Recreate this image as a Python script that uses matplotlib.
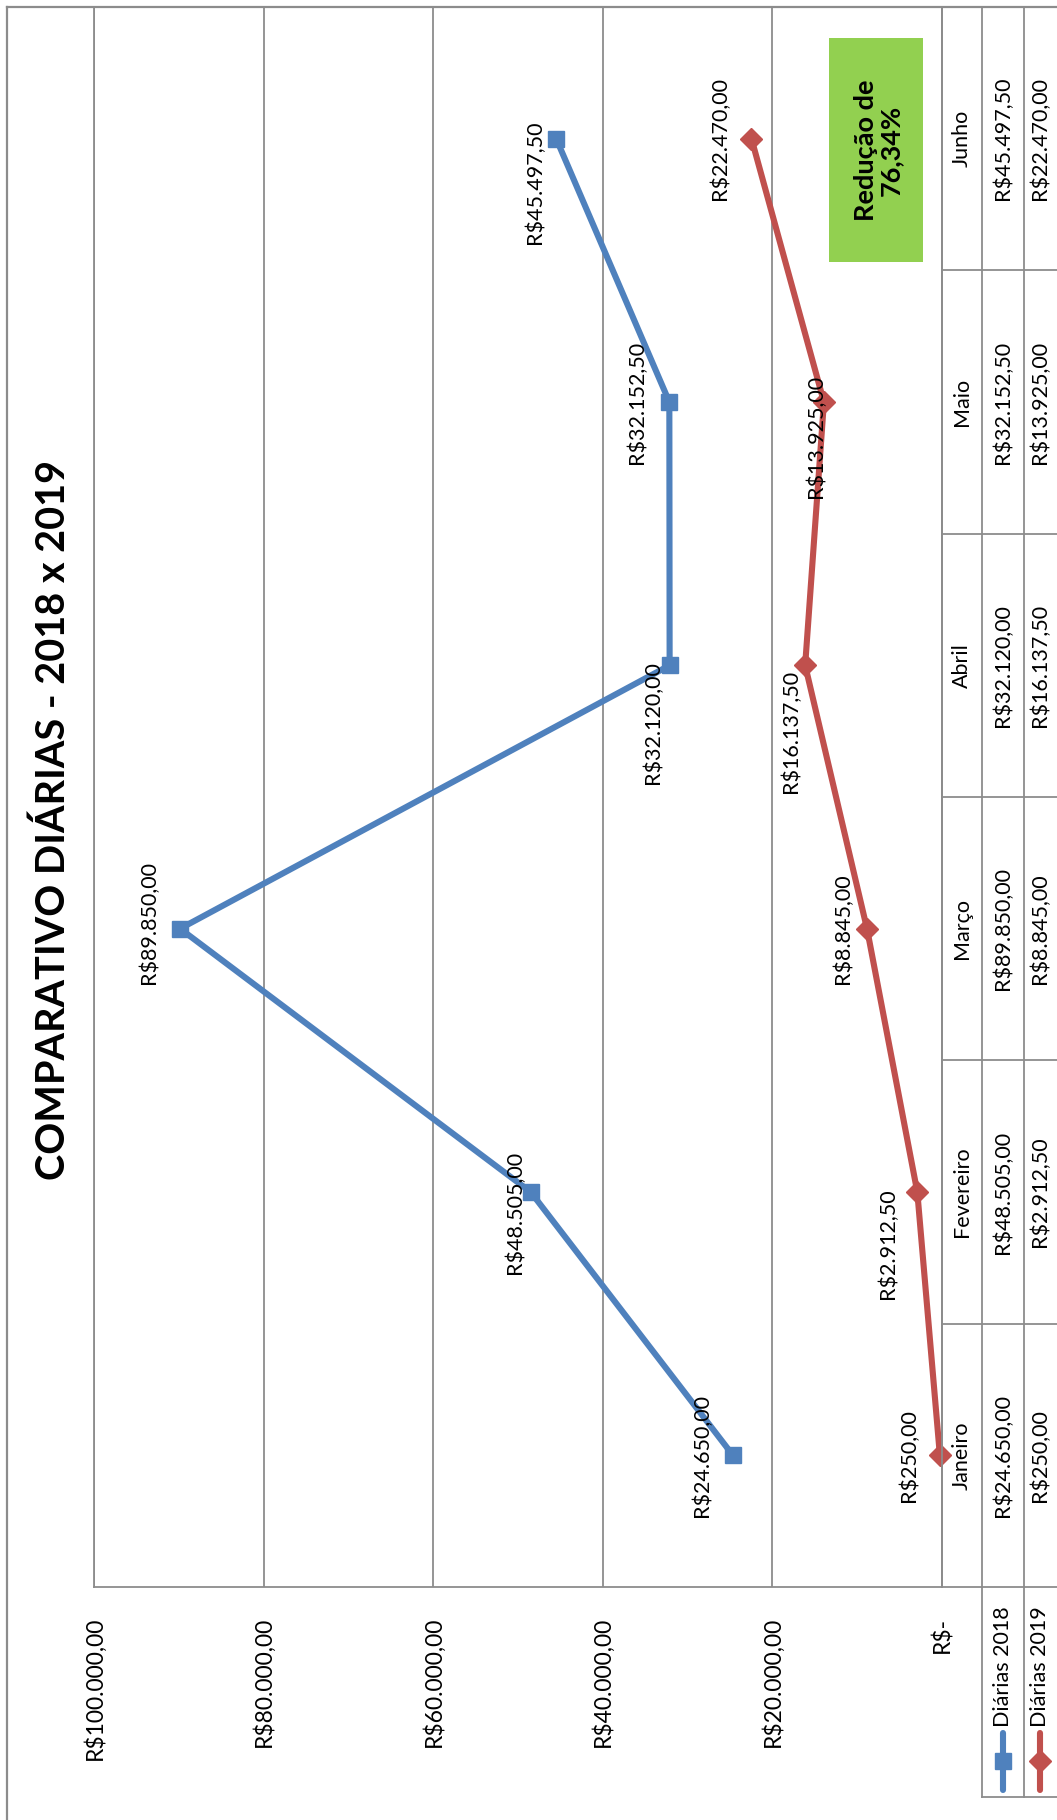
import matplotlib
matplotlib.use("Agg")
import matplotlib.pyplot as plt
from matplotlib.patches import Rectangle
from matplotlib.ticker import FuncFormatter


meses = ["Janeiro", "Fevereiro", "Março", "Abril", "Maio", "Junho"]
diarias_2018 = [24650.00, 48505.00, 89850.00, 32120.00, 32152.50, 45497.50]
diarias_2019 = [250.00, 2912.50, 8845.00, 16137.50, 13925.00, 22470.00]
series = ["Diárias 2018", "Diárias 2019"]
eixo_valores = [0, 20000, 40000, 60000, 80000, 100000]
titulo = "COMPARATIVO DIÁRIAS - 2018 x 2019"
nota = "Redução de\n76,34%"

# deslocamento dos rótulos em pixels (x, y para baixo) na figura girada
desloc_2018 = [(-31, 0), (-16, 20), (-31, -6), (-17, 57), (-32, 0), (-21, 44)]
desloc_2019 = [(-31, 0), (-29, 52), (-24, 0), (-14, 66), (-8, 34), (-32, 0)]

W, H = 1057, 1820
PL, PR, PT, PB = 94, 942, 7, 1587
COLS = [942, 982, 1024, 1075]
LEG_BOTTOM = 1797

AZUL = "#4F81BD"
VERMELHO = "#C0504D"
VERDE = "#92D050"
CINZA = "#8C8C8C"
FS = 15.5

plt.rcParams["font.family"] = ["Lato", "DejaVu Sans"]


def moeda(v):
    s = f"{v:,.2f}"
    s = s.replace(",", "X").replace(".", ",").replace("X", ".")
    return "R$" + s


def moeda_eixo(v, pos=None):
    if v == 0:
        return "R$-"
    return moeda(v)


fig = plt.figure(figsize=(W / 100, H / 100), dpi=100)
fig.patch.set_facecolor("white")

ax = fig.add_axes([PL / W, 1 - PB / H, (PR - PL) / W, (PB - PT) / H])
ax.set_xlim(100000, 0)
ax.set_ylim(-0.5, len(meses) - 0.5)
ax.set_xticks(eixo_valores)
ax.xaxis.set_major_formatter(FuncFormatter(moeda_eixo))
ax.tick_params(axis="x", length=0, pad=21.5, labelsize=16.5, labelrotation=90)
ax.set_yticks([])
ax.grid(axis="x", color=CINZA, lw=1.3)
for sp in ax.spines.values():
    sp.set_color(CINZA)
    sp.set_linewidth(1.3)

idx = list(range(len(meses)))
ax.plot(diarias_2018, idx, color=AZUL, lw=4.4, marker="s", ms=11.5, zorder=3, clip_on=False)
ax.plot(diarias_2019, idx, color=VERMELHO, lw=4.4, marker="D", ms=11.5, zorder=3, clip_on=False)

for vals, desl in [(diarias_2018, desloc_2018), (diarias_2019, desloc_2019)]:
    for i, (v, (dx, dy)) in enumerate(zip(vals, desl)):
        ax.annotate(moeda(v), (v, i), xytext=(dx, -dy), textcoords="offset pixels",
                    rotation=90, ha="center", va="center", fontsize=FS, zorder=4)

# camada em pixels para título, tabela, legenda e caixa
lay = fig.add_axes([0, 0, 1, 1], zorder=5)
lay.set_xlim(0, W)
lay.set_ylim(H, 0)
lay.axis("off")
lay.patch.set_alpha(0)

# borda externa
lay.plot([7, 7], [7, H + 5], color=CINZA, lw=1.6)
lay.plot([7, W + 5], [7, 7], color=CINZA, lw=1.6)

lay.text(53, 820, titulo, rotation=90, fontsize=28.5, fontweight="bold", ha="center", va="center")

# tabela de dados
h = (PB - PT) / len(meses)
for c in COLS[:3]:
    lay.plot([c, c], [PT, PB], color=CINZA, lw=1.3)
for k in range(1, len(meses)):
    lay.plot([COLS[0], W + 5], [PT + k * h] * 2, color=CINZA, lw=1.3)
lay.plot([PR, W + 5], [PB, PB], color=CINZA, lw=1.3)

centros = [(COLS[0] + COLS[1]) / 2, (COLS[1] + COLS[2]) / 2, 1040]
for i, m in enumerate(meses):
    yc = PB - (i + 0.5) * h
    lay.text(centros[0], yc, m, rotation=90, ha="center", va="center", fontsize=FS)
    lay.text(centros[1], yc, moeda(diarias_2018[i]), rotation=90, ha="center", va="center", fontsize=FS)
    lay.text(centros[2], yc, moeda(diarias_2019[i]), rotation=90, ha="center", va="center", fontsize=FS)

# legenda
for c in COLS[1:3]:
    lay.plot([c, c], [PB, LEG_BOTTOM], color=CINZA, lw=1.3)
lay.plot([COLS[1], W + 5], [LEG_BOTTOM, LEG_BOTTOM], color=CINZA, lw=1.3)
for j, (nome, cor, mk) in enumerate(zip(series, [AZUL, VERMELHO], ["s", "D"])):
    xc = centros[j + 1]
    lay.plot([xc, xc], [1733, 1790], color=cor, lw=4.4, solid_capstyle="round")
    lay.plot([xc], [1761], color=cor, marker=mk, ms=11)
    lay.text(xc, 1727, nome, rotation=90, ha="center", va="bottom", fontsize=FS)

# caixa de destaque
lay.add_patch(Rectangle((829, 38), 94, 224, facecolor=VERDE, edgecolor="none"))
lay.text(878, 150, nota, rotation=90, ha="center", va="center", fontsize=19.5,
         fontweight="bold", multialignment="center", linespacing=1.05)

fig.savefig("out.png", dpi=100)
